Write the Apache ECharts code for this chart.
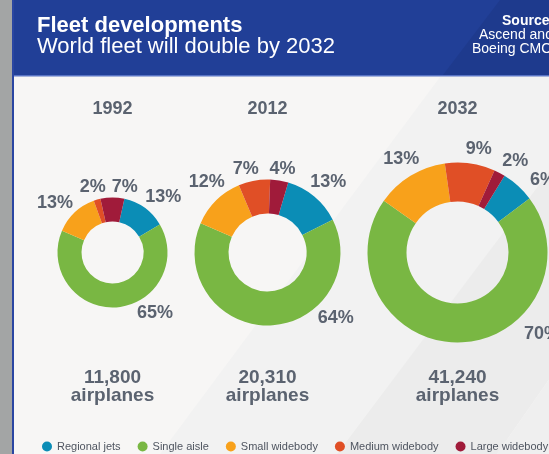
<!DOCTYPE html>
<html>
<head>
<meta charset="utf-8">
<script src="https://cdn.jsdelivr.net/npm/echarts@6/dist/echarts.min.js"></script>
<style>
html,body{margin:0;padding:0;background:#f7f6f5;}
#chart{width:549px;height:454px;}
</style>
</head>
<body>
<div id="chart"></div>
<script>
// ---- data ----
const categories = ['Regional jets', 'Single aisle', 'Small widebody', 'Medium widebody', 'Large widebody'];
const years = ['1992', '2012', '2032'];
const share1992 = [13, 65, 13, 2, 7];
const share2012 = [13, 64, 12, 7, 4];
const share2032 = [6, 70, 13, 9, 2];
const fleetTotals = ['11,800', '20,310', '41,240'];
const unitLabel = 'airplanes';
const titleText = 'Fleet developments';
const subtitleText = 'World fleet will double by 2032';
const sourceLines = ['Source:', 'Ascend and', 'Boeing CMO'];

// ---- style / layout ----
const FONT = "'Liberation Sans', Arial, Helvetica, sans-serif";
const colors = ['#0b8db6', '#79b743', '#f8a11b', '#e04f26', '#a01b3a'];
const GRAY = '#5b6370';
const donuts = [
  {center: [112.5, 252.5], radius: [31, 55], start: 77.5},
  {center: [267.5, 252.5], radius: [39, 73], start: 73.5},
  {center: [457.5, 252.5], radius: [51, 90], start: 58.5}
];
// label offsets (dx, dy from donut centre) per category
const labelOffsets = [
  [[50.8, -55.2], [42.5, 60.8], [-57.5, -49.2], [-19.8, -65.5], [12.2, -65.5]],
  [[60.8, -70.3], [68.3, 65.5], [-60.8, -70.3], [-21.7, -83.7], [15, -83.7]],
  [[85.5, -72.2], [84.5, 81.5], [-56.2, -93.7], [21.3, -103.3], [57.8, -91.8]]
];
const shares = [share1992, share2012, share2032];

const chart = echarts.init(document.getElementById('chart'), null, {renderer: 'canvas'});

const series = shares.map((vals, si) => ({
  type: 'pie',
  center: donuts[si].center,
  radius: donuts[si].radius,
  startAngle: donuts[si].start,
  clockwise: true,
  avoidLabelOverlap: false,
  silent: true,
  animation: false,
  itemStyle: {borderWidth: 0},
  label: {
    show: true,
    position: 'outside',
    formatter: '{c}%',
    color: GRAY,
    fontFamily: FONT,
    fontSize: 18,
    fontWeight: 'bold'
  },
  labelLine: {show: false},
  labelLayout: function (p) {
    const off = labelOffsets[si][p.dataIndex];
    return {
      x: donuts[si].center[0] + off[0],
      y: donuts[si].center[1] + off[1],
      align: 'center',
      verticalAlign: 'middle'
    };
  },
  data: categories.map((c, i) => ({name: c, value: vals[i]}))
}));

const titles = [
  {text: titleText, left: 37, top: 15, padding: 0,
   textStyle: {color: '#ffffff', fontFamily: FONT, fontSize: 22, fontWeight: 'bold'}},
  {text: subtitleText, left: 37, top: 36, padding: 0,
   textStyle: {color: '#ffffff', fontFamily: FONT, fontSize: 22, fontWeight: 'normal'}},
  {text: sourceLines[0], left: 502, top: 14, padding: 0,
   textStyle: {color: '#ffffff', fontFamily: FONT, fontSize: 14, fontWeight: 'bold'}},
  {text: sourceLines[1], left: 479, top: 28, padding: 0,
   textStyle: {color: '#ffffff', fontFamily: FONT, fontSize: 14, fontWeight: 'normal'}},
  {text: sourceLines[2], left: 472, top: 42, padding: 0,
   textStyle: {color: '#ffffff', fontFamily: FONT, fontSize: 14, fontWeight: 'normal'}}
];
years.forEach((y, i) => {
  titles.push({text: y, left: donuts[i].center[0], top: 100.5, textAlign: 'center', padding: 0,
    textStyle: {color: GRAY, fontFamily: FONT, fontSize: 18, fontWeight: 'bold'}});
  titles.push({text: fleetTotals[i], left: donuts[i].center[0], top: 368, textAlign: 'center', padding: 0,
    textStyle: {color: GRAY, fontFamily: FONT, fontSize: 19, fontWeight: 'bold'}});
  titles.push({text: unitLabel, left: donuts[i].center[0], top: 386, textAlign: 'center', padding: 0,
    textStyle: {color: GRAY, fontFamily: FONT, fontSize: 19, fontWeight: 'bold'}});
});

const option = {
  animation: false,
  color: colors,
  backgroundColor: '#f7f6f5',
  title: titles,
  legend: {
    data: categories,
    left: 42,
    top: 441,
    padding: 0,
    itemGap: 17,
    itemWidth: 10,
    itemHeight: 10,
    icon: 'circle',
    selectedMode: false,
    textStyle: {color: '#4f5560', fontFamily: FONT, fontSize: 11}
  },
  graphic: [
    // left textured strip and border
    {type: 'rect', shape: {x: 0, y: 0, width: 12, height: 454}, style: {fill: '#a3a5a5'}, z: -10, silent: true},
    {type: 'rect', shape: {x: 12, y: 0, width: 2, height: 454}, style: {fill: '#2a46a2'}, z: -10, silent: true},
    // background bands
    {type: 'polygon', shape: {points: [[160, 454], [440, 77], [620, 77], [337, 454]]}, style: {fill: '#f2f2f2'}, z: -9, silent: true},
    {type: 'polygon', shape: {points: [[337, 454], [620, 77], [760, 77], [497, 454]]}, style: {fill: '#ececec'}, z: -9, silent: true},
    {type: 'polygon', shape: {points: [[497, 454], [760, 77], [800, 77], [800, 454]]}, style: {fill: '#efefef'}, z: -9, silent: true},
    // header
    {type: 'rect', shape: {x: 14, y: 0, width: 535, height: 75}, style: {fill: '#213f97'}, z: -8, silent: true},
    {type: 'polygon', shape: {points: [[443, 75], [500, 0], [549, 0], [549, 75]]}, style: {fill: '#1e3a8d'}, z: -8, silent: true},
    {type: 'rect', shape: {x: 14, y: 75, width: 535, height: 1.5}, style: {fill: '#5873c4'}, z: -8, silent: true}
  ],
  series: series
};
chart.setOption(option);
</script>
</body>
</html>
